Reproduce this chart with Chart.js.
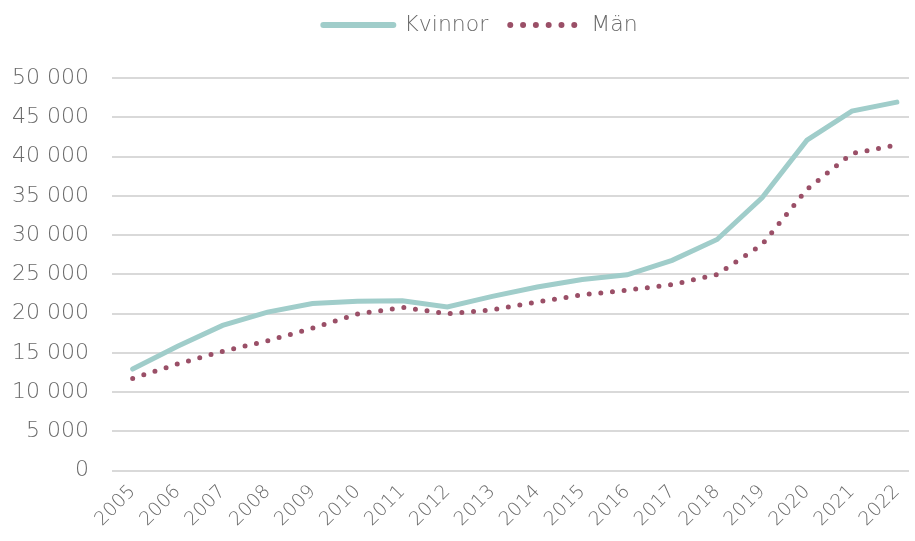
<!DOCTYPE html>
<html>
<head>
<meta charset="utf-8">
<script src="https://cdn.jsdelivr.net/npm/chart.js@4"></script>
<style>
  html, body { margin: 0; padding: 0; background: #fff; }
  #wrap { width: 915px; height: 541px; }
</style>
</head>
<body>
<div id="wrap"><canvas id="chart"></canvas></div>
<script>
var years = [2005, 2006, 2007, 2008, 2009, 2010, 2011, 2012, 2013,
             2014, 2015, 2016, 2017, 2018, 2019, 2020, 2021, 2022];
var kvinnor = [12950, 15850, 18500, 20200, 21300, 21600, 21650, 20850, 22200,
               23400, 24350, 24950, 26800, 29450, 34750, 42100, 45800, 46950];
var man = [11750, 13600, 15200, 16550, 18150, 19950, 20800, 20000, 20500,
           21500, 22400, 23000, 23700, 25000, 28800, 35850, 40400, 41500];

var teal = "#a0cdca";
var plum = "#9a4f67";
var grey = "#6a6a6a";

Chart.defaults.font.family = "'DejaVu Sans', sans-serif";
Chart.defaults.font.weight = 200;
Chart.defaults.color = grey;

function pts(vals) {
  return years.map(function(y, i) { return { x: y, y: vals[i] }; });
}

// the legend sits a little right of the canvas centre
var legendShift = {
  id: 'legendShift',
  afterLayout: function(chart) {
    chart.legend.left += 36;
  }
};

window.onload = function() {
  var ctx = document.getElementById("chart");
  new Chart(ctx, {
    type: 'line',
    data: {
      datasets: [{
        label: "Kvinnor",
        data: pts(kvinnor),
        borderColor: teal,
        backgroundColor: teal,
        borderWidth: 5,
        borderCapStyle: 'round',
        pointRadius: 0,
        tension: 0
      }, {
        label: "Män",
        data: pts(man),
        borderColor: plum,
        backgroundColor: plum,
        borderWidth: 5,
        borderDash: [0, 11.7],
        borderCapStyle: 'round',
        pointRadius: 0,
        tension: 0
      }]
    },
    plugins: [legendShift],
    options: {
      responsive: true,
      maintainAspectRatio: false,
      animation: false,
      layout: { padding: { left: 10, right: 0, top: -8, bottom: 8 } },
      plugins: {
        tooltip: { enabled: false },
        legend: {
          position: 'top',
          labels: {
            usePointStyle: true,
            pointStyle: 'line',
            pointStyleWidth: 70,
            boxHeight: 24,
            padding: 22,
            font: { size: 22, weight: 200 },
            color: grey,
            generateLabels: function(chart) {
              var items = Chart.defaults.plugins.legend.labels.generateLabels(chart);
              items.forEach(function(it, i) {
                it.lineCap = 'round';
                it.lineWidth = 6;
                it.lineDash = i === 1 ? [0, 12.8] : [];
              });
              return items;
            }
          }
        },
        // empty spacer between legend and plot
        subtitle: {
          display: true,
          text: ' ',
          weight: 500,
          font: { size: 1 },
          padding: { top: 0, bottom: 31 }
        }
      },
      scales: {
        x: {
          type: 'linear',
          min: 2004.54,
          max: 2022.27,
          grid: { display: false },
          border: { display: false },
          afterFit: function(s) { s.paddingLeft = 0; },
          ticks: {
            stepSize: 1,
            includeBounds: false,
            autoSkip: false,
            maxRotation: 45,
            minRotation: 45,
            padding: 2,
            font: { size: 19, weight: 200 },
            callback: function(v) { return String(v); }
          }
        },
        y: {
          min: 0,
          max: 50000,
          grid: { color: "#d9d9d9", lineWidth: 2, drawTicks: false },
          border: { display: false },
          afterFit: function(s) { s.width = 102; },
          ticks: {
            stepSize: 5000,
            padding: 23,
            font: { size: 22, weight: 200 },
            callback: function(v) { return String(v).replace(/\B(?=(\d{3})+(?!\d))/g, " "); }
          }
        }
      }
    }
  });
};
</script>
</body>
</html>
